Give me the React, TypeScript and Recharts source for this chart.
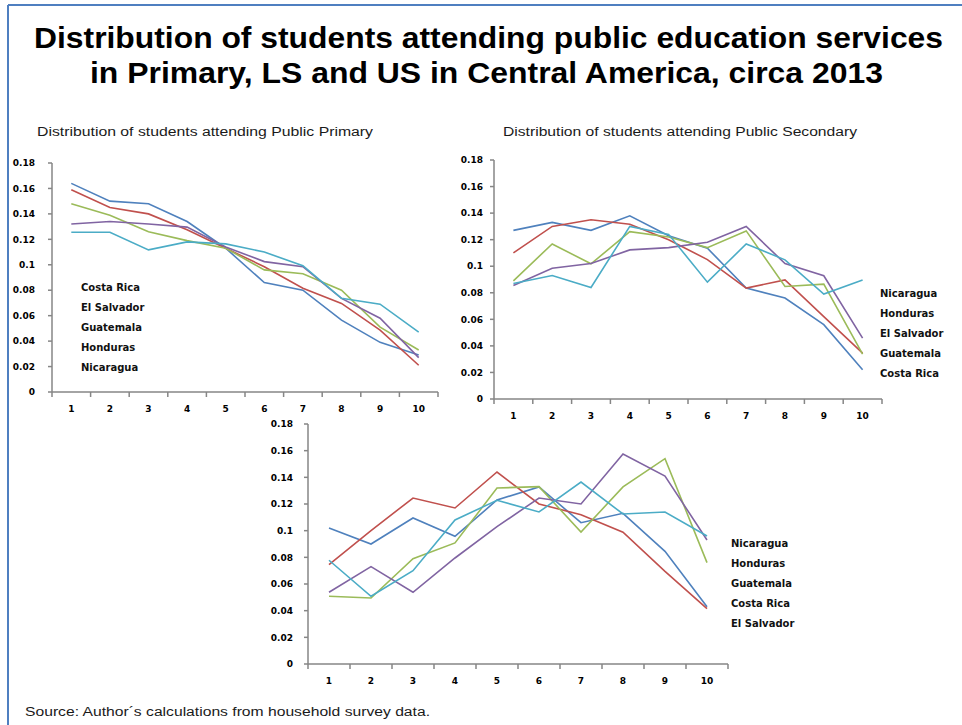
import React from "react";
import { LineChart, Line, XAxis, YAxis } from "recharts";

const DECILES = ["1", "2", "3", "4", "5", "6", "7", "8", "9", "10"];
const COUNTRIES = ["Costa Rica", "El Salvador", "Guatemala", "Honduras", "Nicaragua"];
const COLORS = ["#4F81BD", "#C0504D", "#9BBB59", "#8064A2", "#4BACC6"];
const Y_TICKS = [0, 0.02, 0.04, 0.06, 0.08, 0.1, 0.12, 0.14, 0.16, 0.18];

// Public Primary
const primaryCostaRica = [0.164, 0.15, 0.148, 0.134, 0.113, 0.086, 0.08, 0.0565, 0.039, 0.029];
const primaryElSalvador = [0.159, 0.145, 0.14, 0.1275, 0.113, 0.0985, 0.0815, 0.0696, 0.0486, 0.021];
const primaryGuatemala = [0.148, 0.139, 0.126, 0.119, 0.113, 0.096, 0.093, 0.08, 0.051, 0.033];
const primaryHonduras = [0.132, 0.134, 0.132, 0.1296, 0.114, 0.1025, 0.0985, 0.0736, 0.058, 0.027];
const primaryNicaragua = [0.1256, 0.1256, 0.1117, 0.118, 0.1164, 0.11, 0.0993, 0.0736, 0.069, 0.047];

// Public Secondary (lower)
const lowerCostaRica = [0.127, 0.133, 0.127, 0.138, 0.123, 0.1136, 0.0835, 0.076, 0.056, 0.022];
const lowerElSalvador = [0.11, 0.13, 0.135, 0.1316, 0.12, 0.105, 0.0835, 0.0897, 0.062, 0.0346];
const lowerGuatemala = [0.089, 0.1168, 0.1018, 0.126, 0.122, 0.114, 0.1266, 0.0847, 0.0865, 0.0338];
const lowerHonduras = [0.0855, 0.0985, 0.102, 0.1123, 0.114, 0.118, 0.13, 0.102, 0.0928, 0.0459];
const lowerNicaragua = [0.087, 0.093, 0.084, 0.13, 0.124, 0.088, 0.1168, 0.1048, 0.079, 0.0897];

// Upper secondary
const upperCostaRica = [0.102, 0.09, 0.1095, 0.0958, 0.123, 0.1328, 0.106, 0.113, 0.0845, 0.043];
const upperElSalvador = [0.0745, 0.1, 0.1245, 0.117, 0.144, 0.12, 0.112, 0.0988, 0.0695, 0.0415];
const upperGuatemala = [0.0508, 0.0495, 0.079, 0.0908, 0.132, 0.133, 0.099, 0.1328, 0.154, 0.076];
const upperHonduras = [0.0538, 0.073, 0.0538, 0.0795, 0.103, 0.1245, 0.12, 0.1575, 0.141, 0.093];
const upperNicaragua = [0.0778, 0.0508, 0.07, 0.108, 0.1228, 0.114, 0.1365, 0.1125, 0.114, 0.096];

const LEGEND_PRIMARY = ["Costa Rica", "El Salvador", "Guatemala", "Honduras", "Nicaragua"];
const LEGEND_LOWER = ["Nicaragua", "Honduras", "El Salvador", "Guatemala", "Costa Rica"];
const LEGEND_UPPER = ["Nicaragua", "Honduras", "Guatemala", "Costa Rica", "El Salvador"];

const buildRows = (series: number[][]) =>
  DECILES.map((d, i) => {
    const row: Record<string, string | number> = { decile: d };
    COUNTRIES.forEach((c, k) => {
      row[c] = series[k][i];
    });
    return row;
  });

const primaryData = buildRows([primaryCostaRica, primaryElSalvador, primaryGuatemala, primaryHonduras, primaryNicaragua]);
const lowerData = buildRows([lowerCostaRica, lowerElSalvador, lowerGuatemala, lowerHonduras, lowerNicaragua]);
const upperData = buildRows([upperCostaRica, upperElSalvador, upperGuatemala, upperHonduras, upperNicaragua]);

const AXIS = "#868686";
const TICK_FONT = "'DejaVu Sans', Verdana, sans-serif";
const TEXT_FONT = "'Liberation Sans', Arial, sans-serif";

interface PanelProps {
  data: Record<string, string | number>[];
  left: number;
  top: number;
  width: number;
  height: number;
  marginTop: number;
  marginRight: number;
  yWidth: number;
  yGap: number;
}

function Panel({ data, left, top, width, height, marginTop, marginRight, yWidth, yGap }: PanelProps) {
  const plotWidth = width - marginRight - yWidth;
  const bw = plotWidth / DECILES.length;

  const renderTick = (props: any) => {
    const { x, y, payload, index } = props;
    return (
      <g>
        <line x1={x - bw / 2} y1={y} x2={x - bw / 2} y2={y + 5} stroke={AXIS} strokeWidth={1.5} />
        {index === DECILES.length - 1 && (
          <line x1={x + bw / 2} y1={y} x2={x + bw / 2} y2={y + 5} stroke={AXIS} strokeWidth={1.5} />
        )}
        <text x={x} y={y + 20} textAnchor="middle" fontSize={9} fontWeight="bold" fontFamily={TICK_FONT} fill="#000">
          {payload.value}
        </text>
      </g>
    );
  };

  return (
    <div style={{ position: "absolute", left, top }}>
      <LineChart
        width={width}
        height={height}
        data={data}
        margin={{ top: marginTop, right: marginRight, bottom: 0, left: 0 }}
      >
        <XAxis
          dataKey="decile"
          height={38}
          interval={0}
          padding={{ left: bw / 2, right: bw / 2 }}
          tickSize={0}
          tickMargin={0}
          tickLine={false}
          axisLine={{ stroke: AXIS, strokeWidth: 1.5 }}
          tick={renderTick}
        />
        <YAxis
          width={yWidth}
          domain={[0, 0.18]}
          ticks={Y_TICKS}
          interval={0}
          tickSize={4}
          tickMargin={yGap}
          tickFormatter={(v: number) => String(+v.toFixed(2))}
          axisLine={{ stroke: AXIS, strokeWidth: 1.5 }}
          tickLine={{ stroke: AXIS, strokeWidth: 1.5 }}
          tick={{ fontSize: 9, fontWeight: "bold", fill: "#000", fontFamily: TICK_FONT }}
        />
        {COUNTRIES.map((c, k) => (
          <Line
            key={c}
            type="linear"
            dataKey={c}
            stroke={COLORS[k]}
            strokeWidth={1.6}
            dot={false}
            isAnimationActive={false}
          />
        ))}
      </LineChart>
    </div>
  );
}

function LabelList({ names, x, y }: { names: string[]; x: number; y: number }) {
  return (
    <g>
      {names.map((n, i) => (
        <text key={n} x={x} y={y + i * 20 + 3.5} fontSize={10} fontWeight="bold" fontFamily={TICK_FONT} fill="#111">
          {n}
        </text>
      ))}
    </g>
  );
}

export default function App() {
  return (
    <div style={{ position: "absolute", left: 0, top: 0, width: 962, height: 725, background: "#fff", overflow: "hidden" }}>
      <Panel data={primaryData} left={0} top={150} width={450} height={280} marginTop={13} marginRight={12} yWidth={52} yGap={13} />
      <Panel data={lowerData} left={440} top={150} width={450} height={287} marginTop={10} marginRight={8} yWidth={54} yGap={7} />
      <Panel data={upperData} left={250} top={414} width={480} height={288} marginTop={10} marginRight={2} yWidth={58} yGap={11} />
      <svg width={962} height={725} style={{ position: "absolute", left: 0, top: 0, pointerEvents: "none" }}>
        <line x1={8} y1={5} x2={962} y2={5} stroke="#4F7FC0" strokeWidth={2} />
        <line x1={8} y1={5} x2={8} y2={725} stroke="#4F7FC0" strokeWidth={2} />
        <text x={34} y={48} fontSize={29} fontWeight="bold" fontFamily={TEXT_FONT} fill="#000" textLength={909} lengthAdjust="spacingAndGlyphs">
          Distribution of students attending public education services
        </text>
        <text x={90} y={83} fontSize={29} fontWeight="bold" fontFamily={TEXT_FONT} fill="#000" textLength={793} lengthAdjust="spacingAndGlyphs">
          in Primary, LS and US in Central America, circa 2013
        </text>
        <text x={37} y={136} fontSize={12.5} fontFamily={TEXT_FONT} fill="#1a1a1a" textLength={336} lengthAdjust="spacingAndGlyphs">
          Distribution of students  attending  Public Primary
        </text>
        <text x={503} y={136} fontSize={12.5} fontFamily={TEXT_FONT} fill="#1a1a1a" textLength={354} lengthAdjust="spacingAndGlyphs">
          Distribution of students  attending  Public Secondary
        </text>
        <LabelList names={LEGEND_PRIMARY} x={81} y={287} />
        <LabelList names={LEGEND_LOWER} x={880} y={293} />
        <LabelList names={LEGEND_UPPER} x={731} y={543} />
        <text x={25} y={716} fontSize={12.5} fontFamily={TEXT_FONT} fill="#1a1a1a" textLength={405} lengthAdjust="spacingAndGlyphs">
          Source: Author´s  calculations  from  household  survey  data.
        </text>
      </svg>
    </div>
  );
}
